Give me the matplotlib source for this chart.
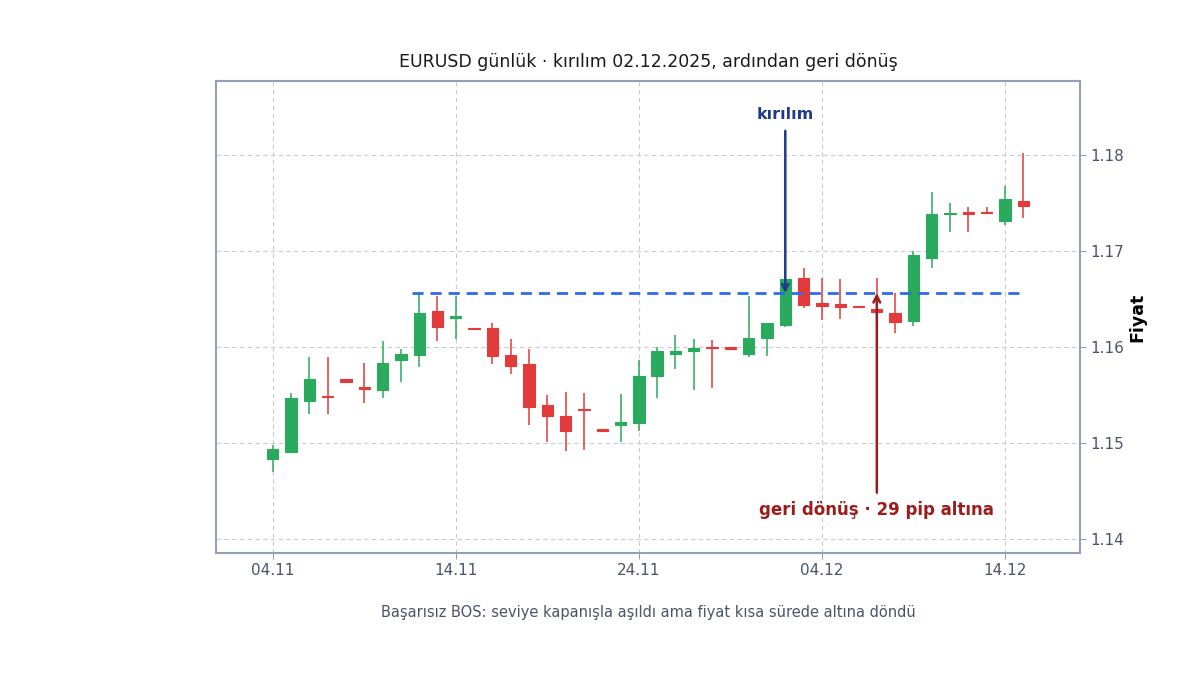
import matplotlib
matplotlib.use("Agg")
import matplotlib.pyplot as plt
import matplotlib.dates as mdates
import numpy as np
import pandas as pd

dates = pd.date_range("2025-11-04", "2025-12-15", freq="D")
opens = [1.14830, 1.14909, 1.15441, 1.15490, 1.15670, 1.15583, 1.15555, 1.15868, 1.15920, 1.16375,
         1.16305, 1.16198, 1.16198, 1.15917, 1.15823, 1.15396, 1.15281, 1.15354, 1.15146, 1.15191,
         1.15212, 1.15701, 1.15930, 1.15955, 1.16003, 1.16003, 1.15930, 1.16097, 1.16232, 1.16722,
         1.16458, 1.16448, 1.16430, 1.16396, 1.16354, 1.16274, 1.16924, 1.17382, 1.17410, 1.17410,
         1.17316, 1.17524]
highs = [1.14979, 1.15518, 1.15899, 1.15899, 1.15670, 1.15830, 1.16059, 1.15976, 1.16563, 1.16534,
         1.16534, 1.16198, 1.16247, 1.16080, 1.15976, 1.15497, 1.15528, 1.15518, 1.15146, 1.15507,
         1.15861, 1.16003, 1.16128, 1.16080, 1.16073, 1.16003, 1.16528, 1.16253, 1.16712, 1.16823,
         1.16716, 1.16705, 1.16430, 1.16716, 1.16559, 1.16997, 1.17618, 1.17497, 1.17461, 1.17461,
         1.17680, 1.18024]
lows = [1.14698, 1.14906, 1.15302, 1.15302, 1.15639, 1.15414, 1.15469, 1.15632, 1.15789, 1.16063,
        1.16080, 1.16188, 1.15820, 1.15716, 1.15188, 1.15014, 1.14914, 1.14924, 1.15128, 1.15014,
        1.15125, 1.15469, 1.15768, 1.15552, 1.15576, 1.15983, 1.15893, 1.15906, 1.16205, 1.16403,
        1.16281, 1.16289, 1.16413, 1.16300, 1.16143, 1.16219, 1.16820, 1.17195, 1.17195, 1.17382,
        1.17274, 1.17341]
closes = [1.14938, 1.15466, 1.15667, 1.15480, 1.15639, 1.15566, 1.15833, 1.15927, 1.16354, 1.16211,
          1.16323, 1.16188, 1.15909, 1.15805, 1.15378, 1.15284, 1.15128, 1.15347, 1.15128, 1.15219,
          1.15698, 1.15958, 1.15961, 1.15993, 1.15993, 1.15983, 1.16094, 1.16253, 1.16708, 1.16441,
          1.16430, 1.16420, 1.16413, 1.16368, 1.16264, 1.16958, 1.17385, 1.17399, 1.17382, 1.17392,
          1.17542, 1.17472]

level = 1.16562
level_start = "2025-11-11 14:00"
level_end = "2025-12-15"
break_date = "2025-12-02"
retest_date = "2025-12-07"
tick_dates = ["2025-11-04", "2025-11-14", "2025-11-24", "2025-12-04", "2025-12-14"]

GREEN = "#29aa5c"
RED = "#e23b3b"

fig = plt.figure(figsize=(12, 6.75), dpi=100)
ax = fig.add_axes([0.18, 0.1807, 0.72, 0.6993])

x = mdates.date2num(dates)
o = np.array(opens); h = np.array(highs); l = np.array(lows); c = np.array(closes)
up = c >= o
cols = np.where(up, GREEN, RED)
width = 0.62
ax.vlines(x, l, h, colors=cols, linewidth=1.1, zorder=2)
bottoms = np.minimum(o, c)
heights = np.maximum(np.abs(c - o), 0.00012)
ax.bar(x, heights, width=width, bottom=bottoms, color=cols, edgecolor=cols, linewidth=0.8, zorder=3)

ax.hlines(level, mdates.date2num(pd.Timestamp(level_start)), mdates.date2num(pd.Timestamp(level_end)),
          colors="#2f6be6", linestyles=(0, (4, 2.5)), linewidth=2, zorder=4)

bx = mdates.date2num(pd.Timestamp(break_date))
ax.annotate("kırılım", xy=(bx, level), xytext=(bx, 1.18417), ha="center", va="center",
            fontsize=11.5, fontweight="bold", color="#1e3a8a",
            arrowprops=dict(arrowstyle="->", color="#1e3a8a", lw=1.8, shrinkA=4, shrinkB=0), zorder=5)
rx = mdates.date2num(pd.Timestamp(retest_date))
ax.annotate("geri dönüş · 29 pip altına", xy=(rx, level), xytext=(rx, 1.14302), ha="center", va="center",
            fontsize=12, fontweight="bold", color="#9b1c1c",
            arrowprops=dict(arrowstyle="->", color="#9b1c1c", lw=1.8, shrinkA=4, shrinkB=0), zorder=5)

x0 = mdates.date2num(dates[0])
ax.set_xlim(x0 - 3.1, x0 + 44.1)
ax.set_ylim(1.13854, 1.18771)
ax.set_xticks(mdates.date2num(pd.to_datetime(tick_dates)))
ax.xaxis.set_major_formatter(mdates.DateFormatter("%d.%m"))
ax.set_yticks([1.14, 1.15, 1.16, 1.17, 1.18])
ax.yaxis.set_major_formatter(matplotlib.ticker.FormatStrFormatter("%.2f"))
ax.yaxis.tick_right()
ax.yaxis.set_label_position("right")
ax.set_ylabel("Fiyat", fontsize=12.5, fontweight="bold", color="black", labelpad=3)
ax.tick_params(axis="both", labelsize=11, colors="#94a0b2", labelcolor="#4a5568", length=4)
ax.grid(True, color="#cccccc", linestyle=(0, (4, 3)), linewidth=0.8, zorder=0)
ax.set_axisbelow(True)
for s in ax.spines.values():
    s.set_color("#94a0b2")
    s.set_linewidth(1.5)

ax.set_title("EURUSD günlük · kırılım 02.12.2025, ardından geri dönüş", fontsize=12.5, color="#1a1a1a", pad=10)
fig.text(0.54, 0.0933, "Başarısız BOS: seviye kapanışla aşıldı ama fiyat kısa sürede altına döndü",
         ha="center", va="center", fontsize=10.5, color="#4a5568")

fig.savefig("out.png", dpi=100)
